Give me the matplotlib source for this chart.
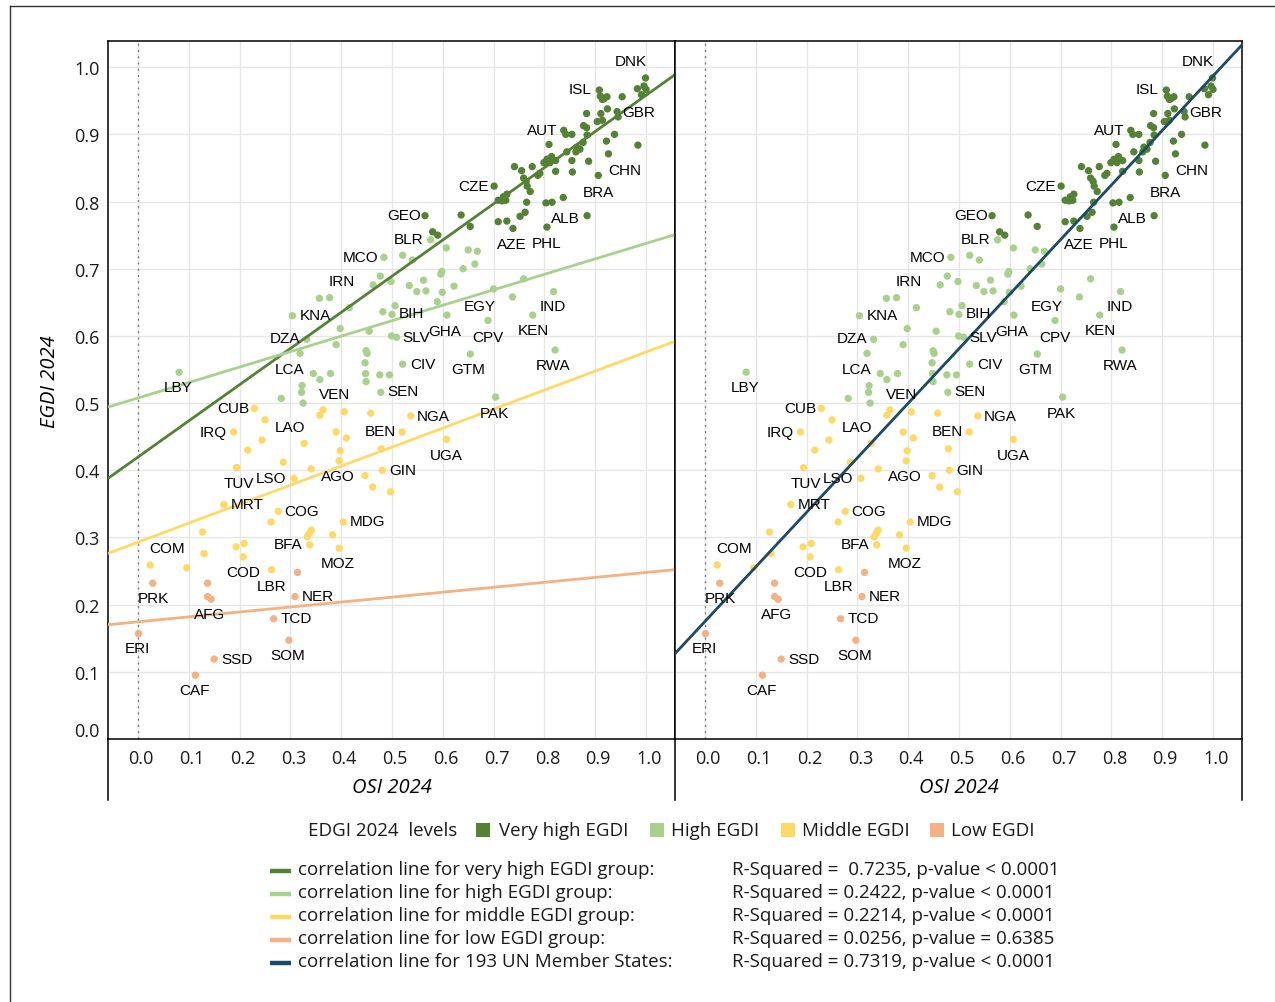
import matplotlib
matplotlib.use("Agg")
import matplotlib.pyplot as plt
from matplotlib.lines import Line2D
from matplotlib.patches import Rectangle
from matplotlib.transforms import ScaledTranslation

# ---------------- data ----------------
vh_osi = [0.999, 0.983, 0.996, 1.000, 0.991, 0.908, 0.910, 0.917, 0.923, 0.914,
          0.953, 0.924, 0.943, 0.911, 0.883, 0.945, 0.904, 0.914, 0.877, 0.883,
          0.938, 0.838, 0.842, 0.854, 0.884, 0.984, 0.809, 0.876, 0.922, 0.864,
          0.870, 0.862, 0.844, 0.926, 0.814, 0.805, 0.799, 0.811, 0.822, 0.854,
          0.887, 0.741, 0.755, 0.776, 0.791, 0.787, 0.822, 0.855, 0.906, 0.759,
          0.764, 0.766, 0.701, 0.772, 0.726, 0.719, 0.709, 0.717, 0.724, 0.765,
          0.803, 0.815, 0.837, 0.762, 0.752, 0.884, 0.709, 0.726, 0.738, 0.805,
          0.654, 0.636, 0.565, 0.580, 0.590]
vh_egdi = [0.984, 0.968, 0.972, 0.967, 0.959, 0.966, 0.957, 0.953, 0.956, 0.952,
           0.956, 0.938, 0.934, 0.931, 0.931, 0.926, 0.919, 0.921, 0.913, 0.910,
           0.900, 0.906, 0.900, 0.900, 0.899, 0.884, 0.885, 0.888, 0.890, 0.881,
           0.878, 0.874, 0.874, 0.871, 0.867, 0.863, 0.858, 0.858, 0.861, 0.861,
           0.860, 0.852, 0.846, 0.852, 0.842, 0.839, 0.845, 0.844, 0.839, 0.835,
           0.830, 0.823, 0.823, 0.815, 0.811, 0.807, 0.802, 0.801, 0.802, 0.799,
           0.798, 0.799, 0.806, 0.784, 0.778, 0.779, 0.770, 0.771, 0.760, 0.762,
           0.763, 0.780, 0.779, 0.755, 0.750]

hi_osi = [0.576, 0.484, 0.521, 0.540, 0.607, 0.650, 0.668, 0.598, 0.596, 0.640,
          0.663, 0.477, 0.463, 0.498, 0.534, 0.562, 0.549, 0.567, 0.599, 0.622,
          0.700, 0.759, 0.737, 0.818, 0.589, 0.357, 0.377, 0.416, 0.304, 0.482,
          0.506, 0.500, 0.608, 0.689, 0.777, 0.398, 0.455, 0.332, 0.499, 0.509,
          0.390, 0.319, 0.449, 0.451, 0.654, 0.821, 0.447, 0.521, 0.345, 0.358,
          0.379, 0.448, 0.476, 0.495, 0.449, 0.323, 0.322, 0.478, 0.325, 0.282,
          0.081, 0.704]
hi_egdi = [0.743, 0.717, 0.720, 0.713, 0.731, 0.728, 0.726, 0.696, 0.692, 0.700,
           0.707, 0.689, 0.676, 0.681, 0.675, 0.683, 0.666, 0.667, 0.665, 0.674,
           0.670, 0.685, 0.658, 0.666, 0.651, 0.656, 0.657, 0.642, 0.630, 0.636,
           0.645, 0.632, 0.631, 0.623, 0.631, 0.611, 0.607, 0.595, 0.600, 0.598,
           0.587, 0.574, 0.578, 0.574, 0.573, 0.579, 0.560, 0.558, 0.544, 0.535,
           0.544, 0.544, 0.542, 0.542, 0.532, 0.526, 0.516, 0.516, 0.500, 0.507,
           0.546, 0.509]

mid_osi = [0.229, 0.250, 0.188, 0.244, 0.216, 0.286, 0.194, 0.327, 0.307, 0.341,
           0.364, 0.358, 0.406, 0.458, 0.537, 0.390, 0.410, 0.520, 0.398, 0.396,
           0.479, 0.481, 0.447, 0.462, 0.497, 0.607, 0.169, 0.276, 0.262, 0.404,
           0.127, 0.341, 0.337, 0.333, 0.383, 0.338, 0.193, 0.209, 0.207, 0.130,
           0.396, 0.024, 0.096, 0.263]
mid_egdi = [0.492, 0.475, 0.457, 0.445, 0.430, 0.412, 0.404, 0.440, 0.388, 0.402,
            0.490, 0.482, 0.487, 0.485, 0.481, 0.457, 0.448, 0.457, 0.429, 0.414,
            0.432, 0.400, 0.392, 0.375, 0.368, 0.446, 0.349, 0.339, 0.323, 0.323,
            0.308, 0.311, 0.306, 0.301, 0.304, 0.289, 0.286, 0.291, 0.271, 0.276,
            0.284, 0.259, 0.255, 0.252]

low_osi = [0.029, 0.137, 0.137, 0.144, 0.314, 0.309, 0.267, 0.001, 0.297, 0.150, 0.113]
low_egdi = [0.232, 0.232, 0.212, 0.208, 0.248, 0.212, 0.179, 0.157, 0.147, 0.119, 0.095]

# regression lines: (slope, intercept)
fit_vh = (0.5385, 0.4197)
fit_hi = (0.2301, 0.5076)
fit_mid = (0.2830, 0.2930)
fit_low = (0.0735, 0.1744)
fit_all = (0.8120, 0.1750)

group_names = ["Very high EGDI", "High EGDI", "Middle EGDI", "Low EGDI"]
line_labels = ["correlation line for very high EGDI group:",
               "correlation line for high EGDI group:",
               "correlation line for middle EGDI group:",
               "correlation line for low EGDI group:",
               "correlation line for 193 UN Member States:"]
line_stats = ["R-Squared =  0.7235, p-value < 0.0001",
              "R-Squared = 0.2422, p-value < 0.0001",
              "R-Squared = 0.2214, p-value < 0.0001",
              "R-Squared = 0.0256, p-value = 0.6385",
              "R-Squared = 0.7319, p-value < 0.0001"]
ticks = [0.0, 0.1, 0.2, 0.3, 0.4, 0.5, 0.6, 0.7, 0.8, 0.9, 1.0]

# country labels: which point they belong to
label_points = {
    "DNK": ("vh", 0), "ISL": ("vh", 5), "GBR": ("vh", 15), "AUT": ("vh", 21),
    "CHN": ("vh", 48), "BRA": ("vh", 62), "CZE": ("vh", 52), "GEO": ("vh", 72),
    "ALB": ("vh", 65), "AZE": ("vh", 68), "PHL": ("vh", 69),
    "BLR": ("hi", 0), "MCO": ("hi", 1), "IRN": ("hi", 12), "KNA": ("hi", 28),
    "BIH": ("hi", 31), "EGY": ("hi", 20), "IND": ("hi", 23), "KEN": ("hi", 34),
    "GHA": ("hi", 32), "CPV": ("hi", 33), "DZA": ("hi", 37), "SLV": ("hi", 39),
    "CIV": ("hi", 47), "GTM": ("hi", 44), "RWA": ("hi", 45), "LCA": ("hi", 41),
    "LBY": ("hi", 60), "VEN": ("hi", 58), "SEN": ("hi", 57), "PAK": ("hi", 61),
    "CUB": ("mid", 0), "NGA": ("mid", 14), "IRQ": ("mid", 2), "LAO": ("mid", 1),
    "BEN": ("mid", 17), "UGA": ("mid", 25), "GIN": ("mid", 21), "AGO": ("mid", 19),
    "LSO": ("mid", 8), "TUV": ("mid", 6), "MRT": ("mid", 26), "COG": ("mid", 27),
    "MDG": ("mid", 29), "BFA": ("mid", 35), "COM": ("mid", 41), "MOZ": ("mid", 40),
    "COD": ("mid", 43), "LBR": ("mid", 43),
    "NER": ("low", 5), "PRK": ("low", 0), "AFG": ("low", 2), "TCD": ("low", 6),
    "ERI": ("low", 7), "SOM": ("low", 8), "SSD": ("low", 9), "CAF": ("low", 10),
}
# label offsets in pixels (style / placement)
label_offsets = {
    "DNK": (-14.5, 17), "ISL": (-19, 1), "GBR": (21, 5), "AUT": (-21.5, 0),
    "CHN": (26.7, 5), "BRA": (35, 6), "CZE": (-21, 0), "GEO": (-21, 0.7),
    "ALB": (-21.3, -2.7), "AZE": (-1, -16), "PHL": (0, -15.7),
    "BLR": (-21.7, 0.5), "MCO": (-23.7, 0.5), "IRN": (-31.3, 3.8), "KNA": (22.5, 1),
    "BIH": (19.8, 1), "EGY": (-13.7, -17), "IND": (-1.3, -14.8), "KEN": (0.3, -15),
    "GHA": (-1.7, -16), "CPV": (0, -16.7), "DZA": (-21.7, 1.2), "SLV": (19.3, 0.3),
    "CIV": (20.3, 0), "GTM": (-2, -15.3), "RWA": (-2, -15.3), "LCA": (-10, -15.5),
    "LBY": (-1, -15), "VEN": (31.7, 9.2), "SEN": (22.2, 1.3), "PAK": (-1.7, -16),
    "CUB": (-21.3, 0.3), "NGA": (22.2, -0.3), "IRQ": (-20.3, -0.2), "LAO": (24.8, -7.3),
    "BEN": (-22.2, 0.7), "UGA": (-0.3, -15.7), "GIN": (20.7, 0), "AGO": (-1, -15.3),
    "LSO": (-23, 0), "TUV": (2.3, -15.5), "MRT": (23, 0.5), "COG": (23.7, 0.3),
    "MDG": (24.7, 0.7), "BFA": (-21.7, 0.7), "COM": (17, 17), "MOZ": (-1.2, -15),
    "COD": (-28.7, -2), "LBR": (0.3, -16),
    "NER": (23.3, 0.7), "PRK": (0.3, -15), "AFG": (2.3, -17.7), "TCD": (22.3, 1),
    "ERI": (-1.3, -14.7), "SOM": (-1, -14.7), "SSD": (22.7, 0), "CAF": (-1.3, -15),
}

# ---------------- style ----------------
C_VH = "#548235"
C_HI = "#A9D18E"
C_MID = "#FFD966"
C_LOW = "#F4B183"
C_ALL = "#1B4A68"
UI_FONT = ["Open Sans", "DejaVu Sans"]
LBL_FONT = ["Liberation Sans", "DejaVu Sans"]
LEG_FS = 13.5

W, H = 1275, 1003
fig = plt.figure(figsize=(W / 100, H / 100), dpi=100)
fig.patch.set_facecolor("white")

def fx(px):
    return px / W

def fy(py):
    return 1 - py / H

groups = {
    "vh": (vh_osi, vh_egdi, C_VH),
    "hi": (hi_osi, hi_egdi, C_HI),
    "mid": (mid_osi, mid_egdi, C_MID),
    "low": (low_osi, low_egdi, C_LOW),
}

XLIM = (-0.059, 1.057)
YLIM = (0.0, 1.039)

ax_l = fig.add_axes([fx(108), fy(740), fx(675) - fx(108), fy(42) - fy(740)])
ax_r = fig.add_axes([fx(675), fy(740), fx(1242) - fx(675), fy(42) - fy(740)])

for i, ax in enumerate([ax_l, ax_r]):
    ax.set_xlim(*XLIM)
    ax.set_ylim(*YLIM)
    ax.set_xticks(ticks)
    ax.set_yticks(ticks)
    ax.grid(True, color="#e6e6e6", linewidth=1.0, zorder=0)
    ax.set_axisbelow(True)
    ax.tick_params(length=0, labelsize=13, pad=7)
    ax.set_xticklabels([f"{t:.1f}" for t in ticks], family=UI_FONT, color="#1a1a1a")
    if i == 0:
        ax.set_yticklabels([f"{t:.1f}" for t in ticks], family=UI_FONT, color="#1a1a1a")
        ax.tick_params(axis="y", pad=6)
    else:
        ax.set_yticklabels([])
    for s in ax.spines.values():
        s.set_color("black")
        s.set_linewidth(1.1)
    ax.axvline(0, color="#808080", linestyle=(0, (1.5, 3)), linewidth=1.0, zorder=1)
    for key, (xs, ys, col) in groups.items():
        ax.scatter(xs, ys, s=28, color=col, edgecolors="none", zorder=3)
    for code, (g, idx) in label_points.items():
        xs, ys, _ = groups[g]
        ax.annotate(code, (xs[idx], ys[idx]), xytext=label_offsets[code],
                    textcoords="offset pixels", ha="center", va="center",
                    fontsize=11, family=LBL_FONT, color="black", zorder=5)
    ax.set_xlabel("OSI 2024", family=UI_FONT, style="italic", fontsize=14.5, labelpad=7.5)
    for lab in ax.get_xticklabels():
        lab.set_transform(lab.get_transform() + ScaledTranslation(3 / 100, 0, fig.dpi_scale_trans))

lab0 = ax_l.get_yticklabels()[0]
lab0.set_transform(lab0.get_transform() + ScaledTranslation(0, 10 / 100, fig.dpi_scale_trans))
ax_l.set_ylabel("EGDI 2024", family=UI_FONT, style="italic", fontsize=14.5)
ax_l.yaxis.set_label_coords(-0.085, 0.514)

x_line = [XLIM[0], XLIM[1]]
for (m, b), col in zip([fit_vh, fit_hi, fit_mid, fit_low], [C_VH, C_HI, C_MID, C_LOW]):
    ax_l.plot(x_line, [m * x + b for x in x_line], color=col, linewidth=2.0, zorder=4,
              solid_capstyle="butt")
m, b = fit_all
ax_r.plot(x_line, [m * x + b for x in x_line], color=C_ALL, linewidth=2.0, zorder=4,
          solid_capstyle="butt")

# vertical extension of panel borders below the x axis
for px in (108, 675, 1242):
    fig.add_artist(Line2D([fx(px), fx(px)], [fy(740), fy(801)], color="black", linewidth=1.1))

# outer frame
fig.add_artist(Line2D([fx(10), fx(1275)], [fy(7), fy(7)], color="#333333", linewidth=1.0))
fig.add_artist(Line2D([fx(10), fx(10)], [fy(7), fy(1003)], color="#333333", linewidth=1.0))

# ---------------- legend ----------------
fig.text(fx(308), fy(831), "EDGI 2024  levels", family=UI_FONT, fontsize=LEG_FS,
         ha="left", va="center", color="#1a1a1a")
sq_x = [476, 650, 781, 930]
tx_x = [499, 671, 802, 951]
for name, col, sx, tx in zip(group_names, [C_VH, C_HI, C_MID, C_LOW], sq_x, tx_x):
    fig.add_artist(Rectangle((fx(sx), fy(838)), fx(14), fy(824) - fy(838),
                             facecolor=col, edgecolor="none"))
    fig.text(fx(tx), fy(831), name, family=UI_FONT, fontsize=LEG_FS, ha="left",
             va="center", color="#1a1a1a")

row_y = [870, 893, 916, 939, 962]
for lbl, stat, col, ry in zip(line_labels, line_stats, [C_VH, C_HI, C_MID, C_LOW, C_ALL], row_y):
    fig.add_artist(Line2D([fx(270), fx(291)], [fy(ry + 1.5), fy(ry + 1.5)], color=col,
                          linewidth=3.2, solid_capstyle="butt"))
    fig.text(fx(298), fy(ry), lbl, family=UI_FONT, fontsize=LEG_FS, ha="left",
             va="center", color="#1a1a1a")
    fig.text(fx(732), fy(ry), stat, family=UI_FONT, fontsize=LEG_FS, ha="left",
             va="center", color="#1a1a1a")

fig.savefig("out.png", dpi=100, facecolor="white")
